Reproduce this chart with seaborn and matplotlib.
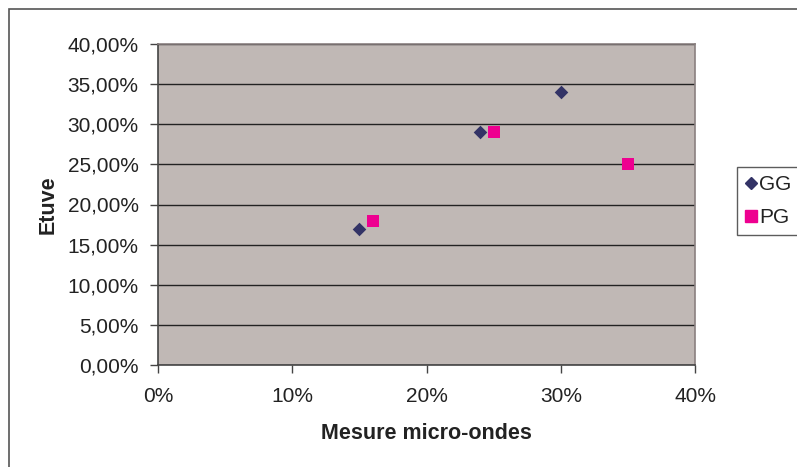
import pandas as pd
import matplotlib
matplotlib.use('Agg')
import matplotlib.pyplot as plt
import seaborn as sns
from matplotlib.ticker import FuncFormatter, MultipleLocator
from matplotlib.patches import Rectangle

# Data (fractions)
gg_micro = [0.15, 0.24, 0.30]
gg_etuve = [0.17, 0.29, 0.34]
pg_micro = [0.16, 0.25, 0.35]
pg_etuve = [0.18, 0.29, 0.25]

df = pd.DataFrame({
    'micro': gg_micro + pg_micro,
    'etuve': gg_etuve + pg_etuve,
    'serie': ['GG'] * len(gg_micro) + ['PG'] * len(pg_micro),
})

sns.set_style('white')
plt.rcParams['font.family'] = ['Liberation Sans', 'DejaVu Sans']

fig = plt.figure(figsize=(7.97, 4.67), dpi=100)
ax = fig.add_axes([158 / 797, 1 - 365 / 467, (695 - 158) / 797, (365 - 44) / 467])
ax.set_facecolor('#C0B8B5')

gg = df[df['serie'] == 'GG']
pg = df[df['serie'] == 'PG']
sns.scatterplot(x='micro', y='etuve', data=gg, ax=ax, color='#333366',
                marker='D', s=48, linewidth=0, zorder=3, legend=False)
sns.scatterplot(x='micro', y='etuve', data=pg, ax=ax, color='#EE0090',
                marker='s', s=72, linewidth=0, zorder=3, legend=False)

ax.set_xlim(0, 0.40)
ax.set_ylim(0, 0.40)
ax.xaxis.set_major_locator(MultipleLocator(0.10))
ax.yaxis.set_major_locator(MultipleLocator(0.05))
ax.xaxis.set_major_formatter(FuncFormatter(lambda v, p: f'{v * 100:.0f}%'))
ax.yaxis.set_major_formatter(FuncFormatter(lambda v, p: f'{v * 100:.2f}%'.replace('.', ',')))
ax.grid(axis='y', color='#222222', linewidth=1.0)
ax.set_axisbelow(True)

for s in ax.spines.values():
    s.set_color('#8a8080')
    s.set_linewidth(1.2)
ax.spines['left'].set_color('#444444')
ax.spines['bottom'].set_color('#444444')

ax.tick_params(axis='both', direction='out', length=6, width=1, color='#444444',
               labelsize=15, labelcolor='#222222', left=True, bottom=True)
ax.tick_params(axis='y', pad=8)
ax.tick_params(axis='x', pad=10)

ax.set_xlabel('Mesure micro-ondes', fontsize=15.5, fontweight='bold',
              color='#222222', labelpad=12)
ax.set_ylabel('Etuve', fontsize=15.5, fontweight='bold',
              color='#222222', labelpad=6)

# legend
handles = [
    plt.Line2D([], [], marker='D', color='#333366', linestyle='', markersize=6.5),
    plt.Line2D([], [], marker='s', color='#EE0090', linestyle='', markersize=8.5),
]
leg = fig.legend(handles, ['GG', 'PG'], loc='upper left',
                 bbox_to_anchor=(737 / 797, 1 - 167 / 467),
                 frameon=True, fancybox=False, fontsize=15,
                 handlelength=0.5, handletextpad=0.15, labelspacing=0.65,
                 borderpad=0.4, borderaxespad=0)
leg.get_frame().set_edgecolor('#333333')
leg.get_frame().set_linewidth(1)
for t in leg.get_texts():
    t.set_color('#222222')

# chart area border
fig.patches.append(Rectangle((9 / 797, -0.1), 1.2, 1 - 9 / 467 + 0.1,
                             transform=fig.transFigure, fill=False,
                             edgecolor='#555555', linewidth=1.2))

fig.savefig('out.png', dpi=100)
